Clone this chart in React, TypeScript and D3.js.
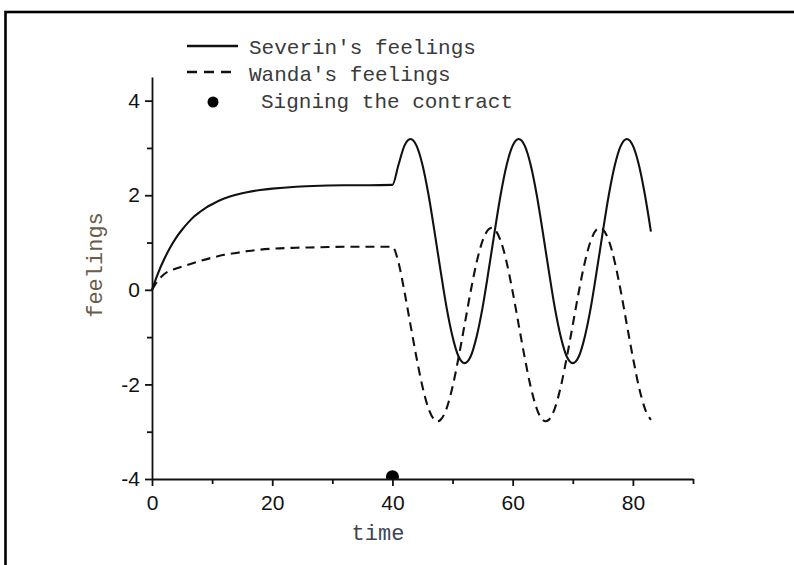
import React, { useEffect, useRef } from "react";
import * as d3 from "d3";

// Severin's feelings (solid)
const severinT = [0, 1, 2, 3, 4, 5, 6, 7, 8, 9, 10, 12, 14, 16, 18, 20, 24, 28, 32, 36, 40,
  41, 42, 43, 44, 45, 46, 47, 48, 49, 50, 51, 52, 53, 54, 55, 56, 57, 58, 59, 60, 61, 62,
  63, 64, 65, 66, 67, 68, 69, 70, 71, 72, 73, 74, 75, 76, 77, 78, 79, 80, 81, 82, 83];
const severinV = [0, 0.35, 0.64, 0.89, 1.1, 1.27, 1.42, 1.55, 1.65, 1.74, 1.81, 1.93, 2.01, 2.07, 2.11, 2.14, 2.18, 2.2, 2.21, 2.21, 2.22,
  2.64, 3.05, 3.19, 3.05, 2.64, 2.01, 1.23, 0.41, -0.37, -0.99, -1.41, -1.55, -1.41, -0.99, -0.37, 0.41, 1.23, 2.01, 2.64, 3.05, 3.19, 3.05,
  2.64, 2.01, 1.23, 0.41, -0.37, -0.99, -1.41, -1.55, -1.41, -0.99, -0.37, 0.41, 1.23, 2.01, 2.64, 3.05, 3.19, 3.05, 2.64, 2.01, 1.23];

// Wanda's feelings (dashed)
const wandaT = [0, 1, 2, 4, 6, 8, 10, 12, 14, 16, 18, 20, 24, 28, 32, 36, 40,
  41, 42, 43, 44, 45, 46, 47, 47.5, 48, 49, 50, 51, 52, 53, 54, 55, 56, 56.5, 57, 58, 59, 60, 61, 62,
  63, 64, 65, 65.5, 66, 67, 68, 69, 70, 71, 72, 73, 74, 74.5, 75, 76, 77, 78, 79, 80, 81, 82, 83];
const wandaV = [0, 0.2, 0.33, 0.45, 0.53, 0.61, 0.68, 0.74, 0.78, 0.82, 0.85, 0.87, 0.89, 0.9, 0.91, 0.91, 0.91,
  0.58, -0.04, -0.74, -1.43, -2.05, -2.51, -2.75, -2.78, -2.75, -2.51, -2.05, -1.43, -0.74, -0.04, 0.58, 1.04, 1.28, 1.31, 1.28, 1.04, 0.58, -0.04, -0.74, -1.43,
  -2.05, -2.51, -2.75, -2.78, -2.75, -2.51, -2.05, -1.43, -0.74, -0.04, 0.58, 1.04, 1.28, 1.31, 1.28, 1.04, 0.58, -0.04, -0.74, -1.43, -2.05, -2.51, -2.75];

const contractPoint = [40, -3.95];

const xMajor = [0, 20, 40, 60, 80];
const xMinor = [10, 30, 50, 70, 90];
const yMajor = [-4, -2, 0, 2, 4];
const yMinor = [-3, -1, 1, 3];

const W = 794;
const H = 565;
const mono = "'Liberation Mono', 'Courier New', monospace";
const sans = "'Liberation Sans', Arial, sans-serif";

export default function App() {
  const gx = useRef<SVGGElement>(null);
  const gy = useRef<SVGGElement>(null);

  const x = d3.scaleLinear().domain([0, 90]).range([152, 693]);
  const y = d3.scaleLinear().domain([-4, 4.5]).range([479, 77]);

  const severin = severinT.map((t, i) => [t, severinV[i]] as [number, number]);
  const wanda = wandaT.map((t, i) => [t, wandaV[i]] as [number, number]);

  const line = d3
    .line<[number, number]>()
    .x((d) => x(d[0]))
    .y((d) => y(d[1]))
    .curve(d3.curveMonotoneX);

  useEffect(() => {
    const ax = d3.select(gx.current);
    ax.selectAll("*").remove();
    ax.append("g")
      .call(d3.axisBottom(x).tickValues(xMinor).tickSize(5).tickSizeOuter(0).tickFormat(() => ""))
      .call((g) => g.select(".domain").remove());
    ax.append("g")
      .call(d3.axisBottom(x).tickValues(xMajor).tickSize(7).tickSizeOuter(0).tickPadding(9).tickFormat((d) => String(d)))
      .call((g) => g.selectAll("text").attr("font-size", 21).attr("font-family", sans).attr("fill", "#111"));
    ax.selectAll("path,line").attr("stroke", "#111").attr("stroke-width", 1.8);

    const ay = d3.select(gy.current);
    ay.selectAll("*").remove();
    ay.append("g")
      .call(d3.axisLeft(y).tickValues(yMinor).tickSize(5).tickSizeOuter(0).tickFormat(() => ""))
      .call((g) => g.select(".domain").remove());
    ay.append("g")
      .call(d3.axisLeft(y).tickValues(yMajor).tickSize(7).tickSizeOuter(0).tickPadding(5).tickFormat((d) => String(d)))
      .call((g) => g.selectAll("text").attr("font-size", 21).attr("font-family", sans).attr("fill", "#111"));
    ay.selectAll("path,line").attr("stroke", "#111").attr("stroke-width", 1.8);
  }, []);

  return (
    <svg width={W} height={H} style={{ position: "absolute", left: 0, top: 0, background: "#fff" }}>
      <defs>
        <clipPath id="plotClip">
          <rect x={x(0)} y={y(4.5)} width={x(90) - x(0) + 10} height={y(-4) - y(4.5)} />
        </clipPath>
      </defs>
      <rect x={5.5} y={12} width={820} height={620} fill="none" stroke="#000" strokeWidth={2.6} />

      <path d={line(severin) || ""} fill="none" stroke="#111" strokeWidth={2.1} />
      <path d={line(wanda) || ""} fill="none" stroke="#111" strokeWidth={2.1} strokeDasharray="9 6" />
      <circle
        cx={x(contractPoint[0])}
        cy={y(contractPoint[1])}
        r={6.5}
        fill="#000"
        clipPath="url(#plotClip)"
      />

      <g ref={gx} transform={`translate(0,${y(-4)})`} />
      <g ref={gy} transform={`translate(${x(0)},0)`} />

      {/* legend */}
      <line x1={187} x2={238} y1={46} y2={46} stroke="#111" strokeWidth={2.4} />
      <text x={249} y={54} fontFamily={mono} fontSize={21} fill="#3a3a3a">Severin's feelings</text>
      <line x1={187} x2={238} y1={72} y2={72} stroke="#111" strokeWidth={2.4} strokeDasharray="10 7" />
      <text x={249} y={81} fontFamily={mono} fontSize={21} fill="#3a3a3a">Wanda's feelings</text>
      <circle cx={213} cy={102} r={5.5} fill="#000" />
      <text x={261} y={108} fontFamily={mono} fontSize={21} fill="#3a3a3a">Signing the contract</text>

      {/* axis titles */}
      <text x={378} y={540} textAnchor="middle" fontFamily={mono} fontSize={22} fill="#3d4650">time</text>
      <text
        transform={`translate(102,265) rotate(-90)`}
        textAnchor="middle"
        fontFamily={mono}
        fontSize={22}
        fill="#6a5d48"
      >
        feelings
      </text>
    </svg>
  );
}
